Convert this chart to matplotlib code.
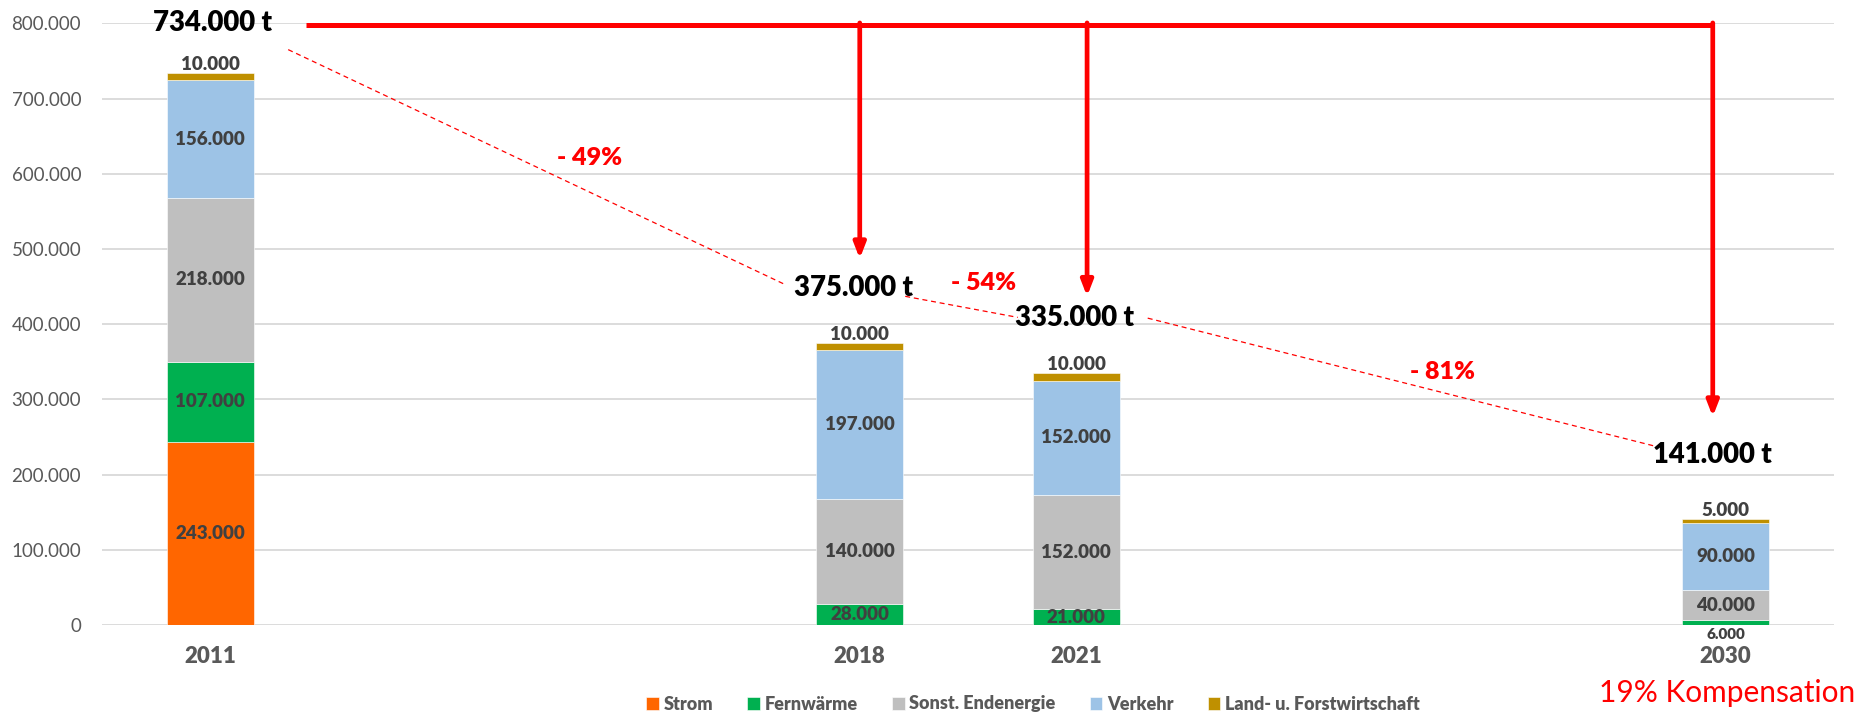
import matplotlib
matplotlib.use("Agg")
import matplotlib.pyplot as plt
import numpy as np

# ---- data ----
years = ["2011", "2018", "2021", "2030"]
series_names = ["Strom", "Fernwärme", "Sonst. Endenergie", "Verkehr", "Land- u. Forstwirtschaft"]
strom = [243000, 0, 0, 0]
fernwaerme = [107000, 28000, 21000, 6000]
sonst = [218000, 140000, 152000, 40000]
verkehr = [156000, 197000, 152000, 90000]
land = [10000, 10000, 10000, 5000]
totals_text = ["734.000 t", "375.000 t", "335.000 t", "141.000 t"]
reduction_labels = ["- 49%", "- 54%", "- 81%"]
compensation_text = "19% Kompensation"

# ---- layout / style ----
positions = [0, 3, 4, 7]          # category slots (8 slots, some empty)
colors = ["#FF6600", "#00B050", "#BFBFBF", "#9DC3E6", "#BF9000"]
label_color = "#404040"
tick_color = "#595959"
FONT = ["Lato", "DejaVu Sans"]
BOLD = 800
plt.rcParams['font.family'] = FONT

fig = plt.figure(figsize=(18.62, 7.15), dpi=100)
ax = fig.add_axes([102/1862, 1-625/715, (1834-102)/1862, (625-23.3)/715])

data = [strom, fernwaerme, sonst, verkehr, land]
bottom = np.zeros(len(years))
width = 0.4
for i, (vals, name, c) in enumerate(zip(data, series_names, colors)):
    vals = np.array(vals, dtype=float)
    ax.bar(positions, vals, width, bottom=bottom, color=c, label=name,
           edgecolor='white', linewidth=0.4, zorder=3)
    for j, v in enumerate(vals):
        if v <= 0:
            continue
        txt = f"{int(v):,}".replace(",", ".")
        if i == 4:  # top thin segment: label above
            ax.annotate(txt, (positions[j], bottom[j] + v), xytext=(0, 0),
                        textcoords='offset points', ha='center', va='bottom',
                        fontsize=13.5, fontweight=BOLD, color=label_color, zorder=5)
        elif v < 15000:  # tiny segment: label below bar
            ax.annotate(txt, (positions[j], bottom[j]), xytext=(0, -2),
                        textcoords='offset points', ha='center', va='top',
                        fontsize=11, fontweight=BOLD, color=label_color, zorder=5)
        else:
            ax.text(positions[j], bottom[j] + v/2, txt, ha='center', va='center',
                    fontsize=13.5, fontweight=BOLD, color=label_color, zorder=5)
    bottom += vals

ax.set_xlim(-0.5, 7.5)
ax.set_ylim(0, 800000)
ax.set_yticks(np.arange(0, 800001, 100000))
ax.set_yticklabels([f"{int(v):,}".replace(",", ".") for v in np.arange(0, 800001, 100000)],
                   fontsize=13.5, color=tick_color)
ax.set_xticks(positions)
ax.set_xticklabels(years, fontsize=16, fontweight=BOLD, color=tick_color)
ax.tick_params(axis='x', length=0, pad=15)
ax.tick_params(axis='y', length=0, pad=15)
for s in ax.spines.values():
    s.set_visible(False)
ax.grid(axis='y', color='#D9D9D9', linewidth=1.3, zorder=0)
ax.set_axisbelow(True)

# ---- totals ----
total_xy = [(0.01, 800000), (2.97, 448000), (3.99, 408000), (6.94, 226000)]
for (x, y), t in zip(total_xy, totals_text):
    ax.text(x, y, t, ha='center', va='center', fontsize=19.8, fontweight=BOLD,
            color='black', zorder=6, clip_on=False)

# ---- red horizontal line and arrows ----
ytop = 798000
ax.plot([0.44, 6.94], [ytop, ytop], color='red', lw=3.6, solid_capstyle='butt', zorder=4)
arrows = [(3.0, 487000), (4.05, 437000), (6.94, 277000)]
for x, tip in arrows:
    ax.annotate('', xy=(x, tip), xytext=(x, ytop + 2500),
                arrowprops=dict(arrowstyle='-|>,head_length=0.9,head_width=0.35',
                                lw=3.4, color='red', shrinkA=0, shrinkB=0), zorder=4)

# ---- dashed trend lines ----
dashes = [((0.36, 765000), (2.66, 452000)),
          ((3.21, 437000), (3.73, 409000)),
          ((4.33, 408000), (6.67, 238000))]
for (x0, y0), (x1, y1) in dashes:
    ax.plot([x0, x1], [y0, y1], color='red', lw=0.9, linestyle=(0, (4, 3)), zorder=4)

pct_xy = [(1.75, 621000), (3.57, 455000), (5.69, 337000)]
for (x, y), t in zip(pct_xy, reduction_labels):
    ax.text(x, y, t, ha='center', va='center', fontsize=18, fontweight=BOLD, color='red')

fig.text(1727/1862, (715-693)/715, compensation_text, ha='center', va='center',
         fontsize=21.5, color='red')

leg = fig.legend(loc='center', bbox_to_anchor=(1033/1862, 11/715), ncol=5, frameon=False,
                 handlelength=0.7, handleheight=0.7, handletextpad=0.25, columnspacing=1.9,
                 prop={'weight': BOLD, 'size': 13, 'family': FONT})
for t in leg.get_texts():
    t.set_color(tick_color)

fig.savefig("out.png", dpi=100)
